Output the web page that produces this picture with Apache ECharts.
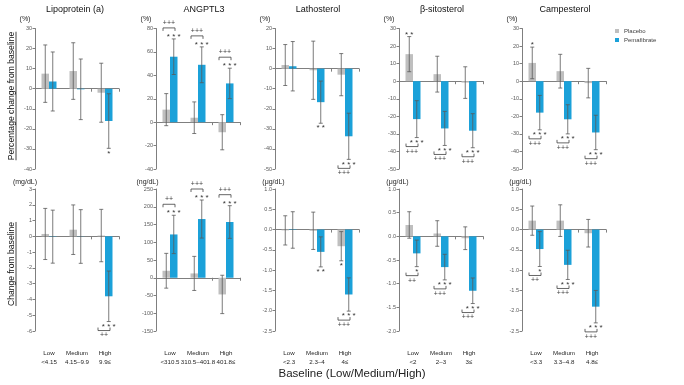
<!DOCTYPE html>
<html>
<head>
<meta charset="utf-8">
<script src="https://cdn.jsdelivr.net/npm/echarts@6/dist/echarts.min.js"></script>
<style>
  html, body { margin: 0; padding: 0; background: #fff; }
  #chart { width: 684px; height: 385px; }
</style>
</head>
<body>
<div id="chart"></div>
<script>
const groups = ['Low', 'Medium', 'High'];

// baseline ranges (x labels of the lower row)
const lpaRanges = ['<4.15', '4.15–9.9', '9.9≤'];
const angRanges = ['<310.5', '310.5–401.8', '401.8≤'];
const latRanges = ['<2.3', '2.3–4', '4≤'];
const sitRanges = ['<2', '2–3', '3≤'];
const camRanges = ['<3.3', '3.3–4.8', '4.8≤'];

// percentage change from baseline (upper row)
const lpaPctPlacebo = [7.5, 8.8, -2.0];
const lpaPctPlaceboErr = [14.3, 14.1, 14.7];
const lpaPctPema = [3.6, -0.3, -16.1];
const lpaPctPemaErr = [14.7, 15.1, 13.6];
const lpaPctStars = [[2, 1, '*']];
const lpaPctPlus = [];

const angPctPlacebo = [10.7, 3.8, -8.6];
const angPctPlaceboErr = [13.7, 13.5, 15];
const angPctPema = [55.9, 49, 33.1];
const angPctPemaErr = [15.2, 15.3, 13];
const angPctStars = [[0, 1, '***'], [1, 1, '***'], [2, 1, '***']];
const angPctPlus = [[0, '+++'], [1, '+++'], [2, '+++']];

const latPctPlacebo = [1.8, -0.8, -3.0];
const latPctPlaceboErr = [10.2, 14.5, 10.5];
const latPctPema = [1.2, -16.7, -33.7];
const latPctPemaErr = [12.3, 10.5, 11.5];
const latPctStars = [[1, 1, '**'], [2, 1, '***']];
const latPctPlus = [[2, '+++']];

const sitPctPlacebo = [15.4, 4.0, -0.8];
const sitPctPlaceboErr = [10, 10.2, 9];
const sitPctPema = [-21.6, -26.9, -28.2];
const sitPctPemaErr = [10.5, 9.7, 9.7];
const sitPctStars = [[0, 0, '**'], [0, 1, '***'], [1, 1, '***'], [2, 1, '***']];
const sitPctPlus = [[0, '+++'], [1, '+++'], [2, '+++']];

const camPctPlacebo = [10.4, 5.7, -1.1];
const camPctPlaceboErr = [9, 9.6, 8.4];
const camPctPema = [-17.9, -21.7, -29.2];
const camPctPemaErr = [9.8, 8.3, 9.8];
const camPctStars = [[0, 0, '*'], [0, 1, '***'], [1, 1, '***'], [2, 1, '***']];
const camPctPlus = [[0, '+++'], [1, '+++'], [2, '+++']];

// absolute change from baseline (lower row)
const lpaAbsPlacebo = [0.15, 0.42, 0.05];
const lpaAbsPlaceboErr = [1.62, 1.57, 1.66];
const lpaAbsPema = [-0.02, -0.01, -3.8];
const lpaAbsPemaErr = [1.68, 1.7, 1.6];
const lpaAbsStars = [[2, 1, '***']];
const lpaAbsPlus = [[2, '++']];

const angAbsPlacebo = [19.7, 12.2, -47];
const angAbsPlaceboErr = [49, 48, 54];
const angAbsPema = [122, 165.4, 157];
const angAbsPemaErr = [54, 53.6, 46];
const angAbsStars = [[0, 1, '***'], [1, 1, '***'], [2, 1, '***']];
const angAbsPlus = [[0, '++'], [1, '+++'], [2, '+++']];

const latAbsPlacebo = [-0.02, -0.03, -0.41];
const latAbsPlaceboErr = [0.36, 0.46, 0.36];
const latAbsPema = [-0.01, -0.55, -1.6];
const latAbsPemaErr = [0.45, 0.37, 0.41];
const latAbsStars = [[1, 1, '**'], [2, 0, '*'], [2, 1, '***']];
const latAbsPlus = [[2, '+++']];

const sitAbsPlacebo = [0.24, 0.06, -0.04];
const sitAbsPlaceboErr = [0.28, 0.27, 0.24];
const sitAbsPema = [-0.36, -0.65, -1.15];
const sitAbsPemaErr = [0.28, 0.27, 0.27];
const sitAbsStars = [[0, 1, '*'], [1, 1, '***'], [2, 1, '***']];
const sitAbsPlus = [[0, '++'], [1, '+++'], [2, '+++']];

const camAbsPlacebo = [0.22, 0.22, -0.09];
const camAbsPlaceboErr = [0.36, 0.39, 0.34];
const camAbsPema = [-0.48, -0.87, -1.9];
const camAbsPemaErr = [0.43, 0.36, 0.4];
const camAbsStars = [[0, 1, '*'], [1, 1, '***'], [2, 1, '***']];
const camAbsPlus = [[0, '++'], [1, '+++'], [2, '+++']];

const FONT = '"Liberation Sans", Arial, sans-serif';
const GRAY = '#bfbfbf';
const BLUE = '#1ba1d9';
const ERR = '#595959';
const AXIS = '#7f7f7f';
const BAR_W = 7.5;

const colLeft = [35, 156, 275, 399, 522];
const colTitleX = [75, 204, 318, 442, 565];
const GRID_W = 84;
const rowTop = [28.5, 189];
const rowH = [140.5, 142];

const panels = [
  { row: 0, col: 0, title: 'Lipoprotein (a)', unit: '(%)', min: -40, max: 30, step: 10,
    placebo: lpaPctPlacebo, placeboErr: lpaPctPlaceboErr, pema: lpaPctPema, pemaErr: lpaPctPemaErr, stars: lpaPctStars, plus: lpaPctPlus },
  { row: 0, col: 1, title: 'ANGPTL3', unit: '(%)', min: -40, max: 80, step: 20,
    placebo: angPctPlacebo, placeboErr: angPctPlaceboErr, pema: angPctPema, pemaErr: angPctPemaErr, stars: angPctStars, plus: angPctPlus },
  { row: 0, col: 2, title: 'Lathosterol', unit: '(%)', min: -50, max: 20, step: 10,
    placebo: latPctPlacebo, placeboErr: latPctPlaceboErr, pema: latPctPema, pemaErr: latPctPemaErr, stars: latPctStars, plus: latPctPlus },
  { row: 0, col: 3, title: 'β-sitosterol', unit: '(%)', min: -50, max: 30, step: 10,
    placebo: sitPctPlacebo, placeboErr: sitPctPlaceboErr, pema: sitPctPema, pemaErr: sitPctPemaErr, stars: sitPctStars, plus: sitPctPlus },
  { row: 0, col: 4, title: 'Campesterol', unit: '(%)', min: -50, max: 30, step: 10,
    placebo: camPctPlacebo, placeboErr: camPctPlaceboErr, pema: camPctPema, pemaErr: camPctPemaErr, stars: camPctStars, plus: camPctPlus },
  { row: 1, col: 0, unit: '(mg/dL)', min: -6, max: 3, step: 1, ranges: lpaRanges,
    placebo: lpaAbsPlacebo, placeboErr: lpaAbsPlaceboErr, pema: lpaAbsPema, pemaErr: lpaAbsPemaErr, stars: lpaAbsStars, plus: lpaAbsPlus },
  { row: 1, col: 1, unit: '(ng/dL)', min: -150, max: 250, step: 50, ranges: angRanges,
    placebo: angAbsPlacebo, placeboErr: angAbsPlaceboErr, pema: angAbsPema, pemaErr: angAbsPemaErr, stars: angAbsStars, plus: angAbsPlus },
  { row: 1, col: 2, unit: '(μg/dL)', min: -2.5, max: 1, step: 0.5, dec: 1, ranges: latRanges,
    placebo: latAbsPlacebo, placeboErr: latAbsPlaceboErr, pema: latAbsPema, pemaErr: latAbsPemaErr, stars: latAbsStars, plus: latAbsPlus },
  { row: 1, col: 3, unit: '(μg/dL)', min: -2, max: 1, step: 0.5, dec: 1, ranges: sitRanges,
    placebo: sitAbsPlacebo, placeboErr: sitAbsPlaceboErr, pema: sitAbsPema, pemaErr: sitAbsPemaErr, stars: sitAbsStars, plus: sitAbsPlus },
  { row: 1, col: 4, unit: '(μg/dL)', min: -2.5, max: 1, step: 0.5, dec: 1, ranges: camRanges,
    placebo: camAbsPlacebo, placeboErr: camAbsPlaceboErr, pema: camAbsPema, pemaErr: camAbsPemaErr, stars: camAbsStars, plus: camAbsPlus }
];

const measureCtx = document.createElement('canvas').getContext('2d');
function textWidth(text, size) {
  measureCtx.font = size + 'px ' + FONT;
  return measureCtx.measureText(text).width;
}

const grids = [], xAxes = [], yAxes = [], series = [], graphics = [];
const labelAxes = [];

panels.forEach((p, i) => {
  grids.push({ left: colLeft[p.col], top: rowTop[p.row], width: GRID_W, height: rowH[p.row] });

  xAxes.push({
    type: 'category', gridIndex: i, data: groups,
    axisLine: { onZero: true, lineStyle: { color: AXIS, width: 1 } },
    axisTick: { show: true, length: 3, lineStyle: { color: AXIS } },
    axisLabel: { show: false },
    splitLine: { show: false }
  });
  if (p.ranges) {
    labelAxes.push({
      type: 'category', gridIndex: i, data: groups, position: 'bottom',
      axisLine: { show: false, onZero: false },
      axisTick: { show: false },
      splitLine: { show: false },
      axisLabel: {
        interval: 0, fontSize: 6.2, lineHeight: 9.5, color: '#262626', fontFamily: FONT, margin: 17.5,
        formatter: (v, k) => v + '\n' + p.ranges[k]
      }
    });
  }

  const shift = p.unit === '(μg/dL)' ? 3 : (p.unit === '(ng/dL)' ? 17 : 20);
  yAxes.push({
    type: 'value', gridIndex: i, min: p.min, max: p.max, interval: p.step,
    name: p.unit, nameLocation: 'end', nameGap: p.row === 0 ? 6 : 3.5,
    nameTextStyle: { fontSize: 7, fontFamily: FONT, color: '#262626', align: 'center', padding: [0, shift, 0, 0] },
    axisLine: { show: true, onZero: false, lineStyle: { color: AXIS, width: 1 } },
    axisTick: { show: true, length: 2.5, lineStyle: { color: AXIS } },
    axisLabel: {
      fontSize: 5.5, color: '#595959', fontFamily: FONT, margin: 3,
      formatter: v => p.dec ? v.toFixed(p.dec) : String(v)
    },
    splitLine: { show: false }
  });

  series.push({
    type: 'bar', name: 'Placebo', xAxisIndex: i, yAxisIndex: i, data: p.placebo,
    barWidth: BAR_W, barGap: '0%', itemStyle: { color: GRAY }, silent: true
  });
  series.push({
    type: 'bar', name: 'Pemafibrate', xAxisIndex: i, yAxisIndex: i, data: p.pema,
    barWidth: BAR_W, barGap: '0%', itemStyle: { color: BLUE }, silent: true
  });

  // error bars
  const errData = [];
  [[p.placebo, p.placeboErr], [p.pema, p.pemaErr]].forEach((pair, s) => {
    pair[0].forEach((m, k) => errData.push([k, m - pair[1][k], m + pair[1][k], s]));
  });
  series.push({
    type: 'custom', xAxisIndex: i, yAxisIndex: i, data: errData, silent: true, z: 10,
    renderItem: (params, api) => {
      const cat = api.value(0), s = api.value(3);
      const a = api.coord([cat, api.value(2)]);
      const b = api.coord([cat, api.value(1)]);
      const x = a[0] + (s === 0 ? -0.5 : 0.5) * BAR_W;
      const st = { stroke: ERR, lineWidth: 0.8 };
      return {
        type: 'group', children: [
          { type: 'line', shape: { x1: x, y1: a[1], x2: x, y2: b[1] }, style: st },
          { type: 'line', shape: { x1: x - 2, y1: a[1], x2: x + 2, y2: a[1] }, style: st },
          { type: 'line', shape: { x1: x - 2, y1: b[1], x2: x + 2, y2: b[1] }, style: st }
        ]
      };
    }
  });

  // significance stars vs baseline
  series.push({
    type: 'custom', xAxisIndex: i, yAxisIndex: i, silent: true, z: 11,
    data: p.stars.map(st => [st[0], 0]),
    renderItem: (params, api) => {
      const st = p.stars[params.dataIndex];
      const cat = st[0], s = st[1];
      const m = s === 0 ? p.placebo[cat] : p.pema[cat];
      const e = s === 0 ? p.placeboErr[cat] : p.pemaErr[cat];
      const up = m >= 0;
      const pt = api.coord([cat, up ? m + e : m - e]);
      return {
        type: 'text',
        x: pt[0] + (s === 0 ? -0.5 : 0.5) * BAR_W,
        y: up ? pt[1] - 2 : pt[1] + 5,
        style: {
          text: st[2].split('').join(' '), fill: '#333', fontSize: 8, fontFamily: FONT,
          align: 'center', verticalAlign: 'middle'
        }
      };
    }
  });

  // between-group brackets
  series.push({
    type: 'custom', xAxisIndex: i, yAxisIndex: i, silent: true, z: 11,
    data: p.plus.map(pl => [pl[0], 0]),
    renderItem: (params, api) => {
      const pl = p.plus[params.dataIndex];
      const cat = pl[0];
      const m = p.pema[cat], e = p.pemaErr[cat];
      const up = m >= 0;
      const pt = api.coord([cat, up ? m + e : m - e]);
      const x1 = pt[0] - 7, x2 = pt[0] + 5;
      const ly = up ? pt[1] - 11 : pt[1] + 9;
      const t = up ? 3 : -3;
      return {
        type: 'group', children: [
          { type: 'polyline', shape: { points: [[x1, ly + t], [x1, ly], [x2, ly], [x2, ly + t]] },
            style: { stroke: '#404040', lineWidth: 0.8, fill: 'none' } },
          { type: 'text', x: (x1 + x2) / 2, y: up ? ly - 5 : ly + 5,
            style: { text: pl[1], fill: '#404040', fontSize: 7, fontFamily: FONT, align: 'center', verticalAlign: 'middle' } }
        ]
      };
    }
  });

  if (p.title) {
    graphics.push({
      type: 'text', x: colTitleX[p.col], y: 10, silent: true,
      style: { text: p.title, fontSize: 9, fontFamily: FONT, fill: '#111', align: 'center', verticalAlign: 'middle' }
    });
  }
});

function sideTitle(text, cx, cy) {
  const w = textWidth(text, 8.6);
  return {
    type: 'group', x: cx, y: cy, rotation: Math.PI / 2, silent: true,
    children: [
      { type: 'text', x: 0, y: 0,
        style: { text, fontSize: 8.6, fontFamily: FONT, fill: '#111', align: 'center', verticalAlign: 'middle' } },
      { type: 'line', shape: { x1: -w / 2, y1: 4.5, x2: w / 2, y2: 4.5 }, style: { stroke: '#111', lineWidth: 0.8 } }
    ]
  };
}
graphics.push(sideTitle('Percentage change from baseline', 11.5, 96));
graphics.push(sideTitle('Change from baseline', 11.5, 264));
graphics.push({
  type: 'text', x: 352, y: 374, silent: true,
  style: { text: 'Baseline (Low/Medium/High)', fontSize: 11.5, fontFamily: FONT, fill: '#222', align: 'center', verticalAlign: 'middle' }
});

const chart = echarts.init(document.getElementById('chart'));
chart.setOption({
  animation: false,
  backgroundColor: '#fff',
  textStyle: { fontFamily: FONT },
  legend: {
    data: ['Placebo', 'Pemafibrate'], orient: 'vertical', left: 615, top: 28, padding: 0,
    itemWidth: 4, itemHeight: 4, itemGap: 3, icon: 'rect', selectedMode: false,
    textStyle: { fontSize: 6, color: '#404040', fontFamily: FONT }
  },
  grid: grids,
  xAxis: xAxes.concat(labelAxes),
  yAxis: yAxes,
  series: series,
  graphic: graphics
});
</script>
</body>
</html>
